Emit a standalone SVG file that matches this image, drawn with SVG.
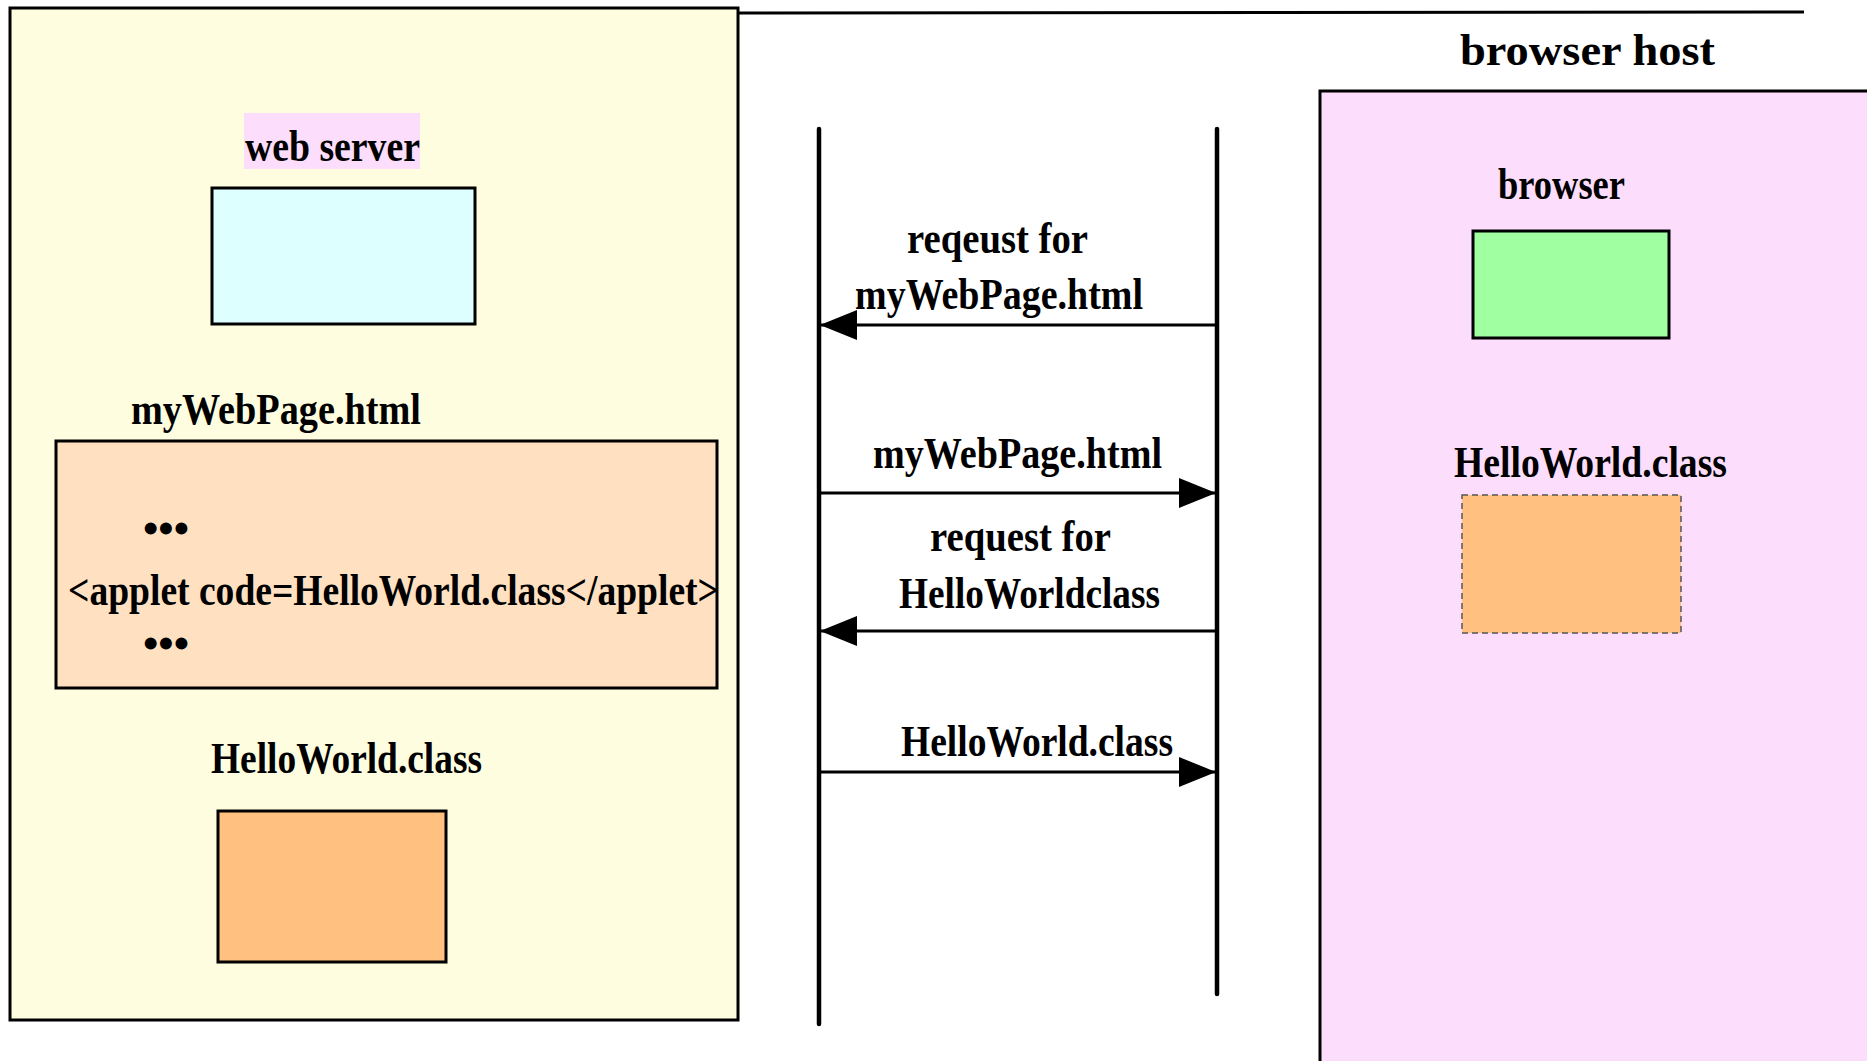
<svg xmlns="http://www.w3.org/2000/svg" width="1867" height="1061" viewBox="0 0 1867 1061">
<style>
.t{font-family:"Liberation Serif","Times New Roman",serif;font-weight:bold;font-size:45px;fill:#000}
.box{stroke:#000;stroke-width:3}
.life{stroke:#000;stroke-width:4.5;stroke-linecap:round}
.msg{stroke:#000;stroke-width:3;fill:none}
</style>
<defs>
<marker id="ah" markerUnits="userSpaceOnUse" markerWidth="40" markerHeight="32" refX="37" refY="15" orient="auto">
<path d="M0,0 L37,15 L0,30 z" fill="#000"/>
</marker>
</defs>
<rect width="1867" height="1061" fill="#fff"/>
<g id="web-server-host">
<rect class="box" x="10" y="8" width="728" height="1012" fill="#FFFDE0"/>
</g>
<g id="browser-host">
<line x1="738" y1="13" x2="1804" y2="12" stroke="#000" stroke-width="3"/>
<text class="t" x="1460" y="65" font-size="56" textLength="255" lengthAdjust="spacingAndGlyphs">browser host</text>
<rect class="box" x="1320" y="91" width="620" height="1000" fill="#FCDDFC"/>
</g>
<g id="web-server">
<rect x="244" y="113" width="176" height="56" fill="#FCDDFC"/>
<text class="t" x="245" y="161" textLength="175" lengthAdjust="spacingAndGlyphs">web server</text>
<rect class="box" x="212" y="188" width="263" height="136" fill="#DDFFFF"/>
</g>
<g id="mywebpage-server">
<text class="t" x="131" y="424" textLength="290" lengthAdjust="spacingAndGlyphs">myWebPage.html</text>
<rect class="box" x="56" y="441" width="661" height="247" fill="#FFE0C0"/>
<text class="t" x="143" y="543" font-size="38" textLength="46" lengthAdjust="spacingAndGlyphs">•••</text>
<text class="t" x="68" y="605" textLength="651" lengthAdjust="spacingAndGlyphs">&lt;applet code=HelloWorld.class&lt;/applet&gt;</text>
<text class="t" x="143" y="658" font-size="38" textLength="46" lengthAdjust="spacingAndGlyphs">•••</text>
</g>
<g id="helloworld-server">
<text class="t" x="211" y="773" textLength="271" lengthAdjust="spacingAndGlyphs">HelloWorld.class</text>
<rect class="box" x="218" y="811" width="228" height="151" fill="#FFC080"/>
</g>
<g id="browser">
<text class="t" x="1498" y="199" textLength="127" lengthAdjust="spacingAndGlyphs">browser</text>
<rect class="box" x="1473" y="231" width="196" height="107" fill="#A0FFA0"/>
</g>
<g id="helloworld-browser">
<text class="t" x="1454" y="477" textLength="273" lengthAdjust="spacingAndGlyphs">HelloWorld.class</text>
<rect x="1462" y="495" width="219" height="138" fill="#FFC080" stroke="#555" stroke-width="1.5" stroke-dasharray="6 4"/>
</g>
<g id="connectors">
<line class="life" x1="819" y1="129" x2="819" y2="1024"/>
<line class="life" x1="1217" y1="129" x2="1217" y2="994"/>
<line class="msg" x1="1217" y1="325" x2="820" y2="325" marker-end="url(#ah)"/>
<text class="t" x="907" y="253" textLength="181" lengthAdjust="spacingAndGlyphs">reqeust for</text>
<text class="t" x="855" y="309" textLength="288" lengthAdjust="spacingAndGlyphs">myWebPage.html</text>
<line class="msg" x1="819" y1="493" x2="1216" y2="493" marker-end="url(#ah)"/>
<text class="t" x="873" y="468" textLength="289" lengthAdjust="spacingAndGlyphs">myWebPage.html</text>
<line class="msg" x1="1217" y1="631" x2="820" y2="631" marker-end="url(#ah)"/>
<text class="t" x="930" y="551" textLength="181" lengthAdjust="spacingAndGlyphs">request for</text>
<text class="t" x="899" y="608" textLength="261" lengthAdjust="spacingAndGlyphs">HelloWorldclass</text>
<line class="msg" x1="819" y1="772" x2="1216" y2="772" marker-end="url(#ah)"/>
<text class="t" x="901" y="756" textLength="272" lengthAdjust="spacingAndGlyphs">HelloWorld.class</text>
</g>
</svg>
